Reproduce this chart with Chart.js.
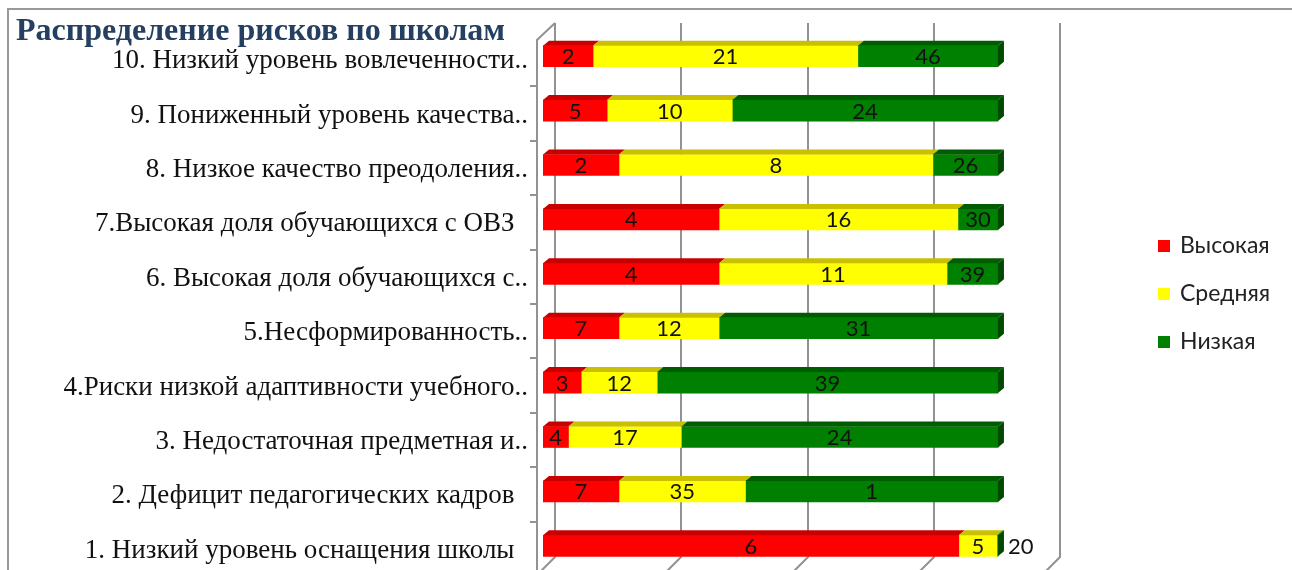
<!DOCTYPE html>
<html>
<head>
<meta charset="utf-8">
<script src="https://cdn.jsdelivr.net/npm/chart.js@4.4.1/dist/chart.umd.min.js"></script>
<style>
  html, body { margin: 0; padding: 0; background: #fff; overflow: hidden; }
  #wrap { position: relative; width: 1292px; height: 570px; overflow: hidden; }
  #frame { position: absolute; left: 7px; top: 8px; width: 1300px; height: 600px; border: 2px solid #999; box-sizing: border-box; }
  #chart { position: absolute; left: 0; top: 0; }
  #title { position: absolute; left: 16px; top: 11px; font: bold 32px "Liberation Serif", serif; color: #243f60; white-space: nowrap; }
  #legend { position: absolute; left: 1158px; top: 230px; font: 23px "Lato", "Liberation Sans", sans-serif; color: #222; }
  #legend div { height: 48px; display: flex; align-items: flex-start; }
  #legend span.box { display: inline-block; width: 12px; height: 12px; margin: 10px 10px 0 0; }
</style>
</head>
<body>
<div id="wrap">
  <div id="frame"></div>
  <canvas id="chart" width="1292" height="600"></canvas>
  <div id="title">Распределение рисков по школам</div>
  <div id="legend"></div>
</div>
<script>
'use strict';

// categories, top row first
const categories = [
  '10. Низкий уровень вовлеченности..',
  '9. Пониженный уровень качества..',
  '8. Низкое качество преодоления..',
  '7.Высокая доля обучающихся с ОВЗ  ',
  '6. Высокая доля обучающихся с..',
  '5.Несформированность..',
  '4.Риски низкой адаптивности учебного..',
  '3. Недостаточная предметная и..',
  '2. Дефицит педагогических кадров  ',
  '1. Низкий уровень оснащения школы  '
];
const seriesNames = ['Высокая', 'Средняя', 'Низкая'];

// bar shares (percent of row)
const shareHigh = [11.0, 14.1, 16.7, 38.7, 38.7, 16.7, 8.4, 5.6, 16.7, 91.4];
const shareMid = [58.2, 27.5, 69.0, 52.5, 50.1, 22.0, 16.7, 24.8, 27.8, 8.4];
const shareLow = [30.8, 58.4, 14.3, 8.8, 11.2, 61.3, 74.9, 69.6, 55.5, 0.2];

// numbers printed on the segments
const countHigh = [2, 5, 2, 4, 4, 7, 3, 4, 7, 6];
const countMid = [21, 10, 8, 16, 11, 12, 12, 17, 35, 5];
const countLow = [46, 24, 26, 30, 39, 31, 39, 24, 1, 20];

// value axis
const axisMax = 111;
const axisStep = 27.75;

const faceColors = ['#ff0000', '#ffff00', '#008000'];
const topColors = ['#c80000', '#c8c000', '#005c00'];
const sideColors = ['#a00000', '#a09a00', '#004a00'];
const counts = [countHigh, countMid, countLow];

// back wall, floor and category axis
const wall3d = {
  id: 'wall3d',
  beforeDatasetsDraw(chart) {
    const ctx = chart.ctx;
    const x = chart.scales.x;
    const y = chart.scales.y;
    const area = chart.chartArea;
    const wallTop = area.top - 6;
    const wallBottom = area.bottom - 16;
    ctx.save();
    ctx.strokeStyle = '#929292';
    ctx.lineWidth = 2;
    ctx.beginPath();
    for (let v = 0; v <= axisMax + 0.01; v += axisStep) {
      const gx = Math.round(x.getPixelForValue(v) + 12);
      ctx.moveTo(gx, wallTop);
      ctx.lineTo(gx, wallBottom);
      ctx.lineTo(gx - 40, wallBottom + 40);
    }
    // category axis with its tick marks
    const ax = area.left - 6;
    ctx.moveTo(ax + 18, wallTop);
    ctx.lineTo(ax, area.top + 11);
    ctx.lineTo(ax, chart.height);
    for (let i = 0; i < categories.length - 1; i++) {
      const ty = Math.round((y.getPixelForValue(i) + y.getPixelForValue(i + 1)) / 2 + 3);
      ctx.moveTo(ax - 7, ty);
      ctx.lineTo(ax, ty);
    }
    ctx.stroke();
    ctx.restore();
  },
  afterDatasetsDraw(chart) {
    const ctx = chart.ctx;
    const dx = 6, dy = 5;
    const last = chart.data.datasets.length - 1;
    ctx.save();
    chart.data.datasets.forEach((ds, di) => {
      const meta = chart.getDatasetMeta(di);
      meta.data.forEach((bar) => {
        const x0 = Math.min(bar.base, bar.x);
        const x1 = Math.max(bar.base, bar.x);
        const top = bar.y - bar.height / 2;
        const bottom = bar.y + bar.height / 2;
        ctx.fillStyle = topColors[di];
        ctx.beginPath();
        ctx.moveTo(x0, top);
        ctx.lineTo(x1, top);
        ctx.lineTo(x1 + dx, top - dy);
        ctx.lineTo(x0 + dx, top - dy);
        ctx.closePath();
        ctx.fill();
        if (di === last) {
          ctx.fillStyle = sideColors[di];
          ctx.beginPath();
          ctx.moveTo(x1, top);
          ctx.lineTo(x1 + dx, top - dy);
          ctx.lineTo(x1 + dx, bottom - dy);
          ctx.lineTo(x1, bottom);
          ctx.closePath();
          ctx.fill();
        }
      });
    });
    // segment numbers
    ctx.font = '22px "Lato", "Liberation Sans", sans-serif';
    ctx.fillStyle = '#111';
    ctx.textBaseline = 'middle';
    chart.data.datasets.forEach((ds, di) => {
      const meta = chart.getDatasetMeta(di);
      meta.data.forEach((bar, i) => {
        const x0 = Math.min(bar.base, bar.x);
        const x1 = Math.max(bar.base, bar.x);
        const text = String(counts[di][i]);
        if (x1 - x0 < 12) {
          ctx.textAlign = 'left';
          ctx.fillText(text, x1 + 10, bar.y + 1);
        } else {
          ctx.textAlign = 'center';
          ctx.fillText(text, (x0 + x1) / 2, bar.y + 1);
        }
      });
    });
    ctx.restore();
  }
};

const ctxC = document.getElementById('chart').getContext('2d');
const chart = new Chart(ctxC, {
  type: 'bar',
  data: {
    labels: categories,
    datasets: [
      { label: seriesNames[0], data: shareHigh, backgroundColor: faceColors[0] },
      { label: seriesNames[1], data: shareMid, backgroundColor: faceColors[1] },
      { label: seriesNames[2], data: shareLow, backgroundColor: faceColors[2] }
    ]
  },
  options: {
    indexAxis: 'y',
    responsive: false,
    animation: false,
    devicePixelRatio: 1,
    layout: {
      padding: { left: 0, right: 244, top: 29, bottom: 27 }
    },
    datasets: {
      bar: { barThickness: 21, borderWidth: 0 }
    },
    scales: {
      x: {
        stacked: true,
        display: false,
        min: 0,
        max: axisMax,
        ticks: { stepSize: axisStep }
      },
      y: {
        stacked: true,
        grid: { display: false },
        border: { display: false },
        ticks: {
          color: '#111',
          padding: 7,
          labelOffset: 5,
          font: { family: '"Liberation Serif", serif', size: 27 }
        },
        afterFit(scale) { scale.width = 543; }
      }
    },
    plugins: {
      legend: { display: false },
      tooltip: { enabled: false }
    }
  },
  plugins: [wall3d]
});

// legend
const legendBox = document.getElementById('legend');
seriesNames.forEach((name, i) => {
  const row = document.createElement('div');
  row.innerHTML = '<span class="box" style="background:' + faceColors[i] + '"></span>' + name;
  legendBox.appendChild(row);
});
</script>
</body>
</html>
